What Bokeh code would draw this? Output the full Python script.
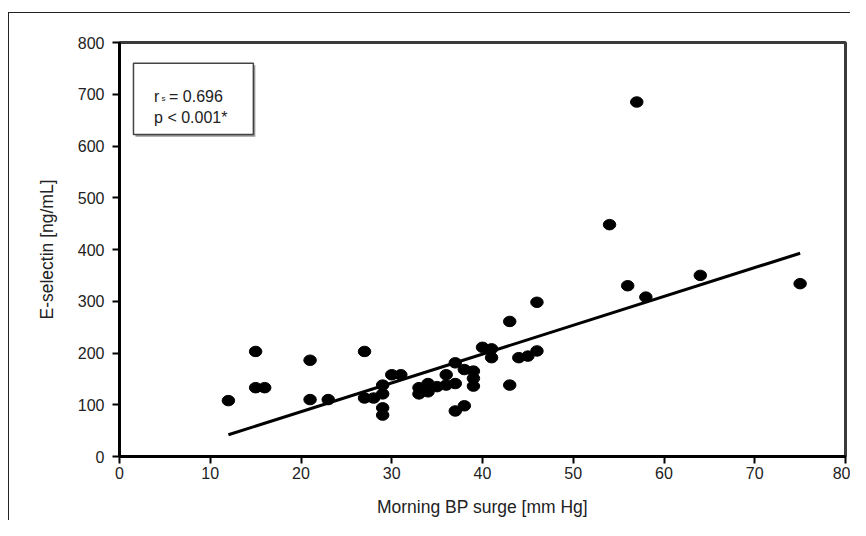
from bokeh.plotting import figure
from bokeh.models import Range1d, FixedTicker, BoxAnnotation, Label
from bokeh.embed import file_html
from bokeh.resources import INLINE

# Morning BP surge [mm Hg]
surge = [12, 15, 15, 16, 21, 21, 23, 27, 27, 28, 29, 29, 29, 29, 30, 31,
         33, 33, 34, 34, 35, 36, 36, 37, 37, 37, 38, 38, 39, 39, 39, 40,
         41, 41, 43, 43, 44, 45, 46, 46, 54, 56, 57, 58, 64, 75]
# E-selectin [ng/mL]
eselectin = [108, 203, 133, 133, 186, 110, 110, 203, 113, 113, 138, 121, 94, 80, 158, 158,
             121, 133, 141, 125, 135, 158, 138, 181, 141, 88, 168, 98, 165, 151, 136, 211,
             208, 191, 261, 138, 191, 194, 204, 298, 448, 330, 685, 308, 350, 334]

# regression line
fit_intercept = -24.9
fit_slope = 5.57

x_ticks = [0, 10, 20, 30, 40, 50, 60, 70, 80]
y_ticks = [0, 100, 200, 300, 400, 500, 600, 700, 800]

r_label = "r"
r_sub = "s"
r_value = "= 0.696"
p_label = "p < 0.001*"

FONT = "'Liberation Sans', Arial, sans-serif"
TXT = "#222222"

p = figure(width=850, height=520, output_backend="svg", toolbar_location=None,
           x_range=Range1d(0, 80), y_range=Range1d(0, 800),
           min_border_left=119, min_border_right=5, min_border_top=42,
           min_border_bottom=64)
p.background_fill_color = "white"
p.border_fill_alpha = 0
# outer panel frame (left and top edges; the rest lies beyond the page)
p.styles = {
    "background-color": "white",
    "background-image": "linear-gradient(#222222, #222222), linear-gradient(#222222, #222222)",
    "background-size": "1px 3000px, 3000px 1px",
    "background-position": "8px 12px, 8px 12px",
    "background-repeat": "no-repeat",
}
p.grid.visible = False
p.outline_line_color = "#3a3a3a"
p.outline_line_width = 3

p.xaxis.ticker = FixedTicker(ticks=x_ticks)
p.yaxis.ticker = FixedTicker(ticks=y_ticks)
for ax in (p.xaxis, p.yaxis):
    ax.axis_line_color = "black"
    ax.axis_line_width = 3
    ax.major_tick_line_color = "black"
    ax.major_tick_line_width = 2
    ax.major_tick_out = 7
    ax.major_tick_in = 0
    ax.minor_tick_line_color = None
    ax.major_label_text_font = FONT
    ax.major_label_text_font_size = "16px"
    ax.major_label_text_color = TXT
    ax.axis_label_text_font = FONT
    ax.axis_label_text_font_size = "17.5px"
    ax.axis_label_text_font_style = "normal"
    ax.axis_label_text_color = TXT

p.xaxis.axis_label = "Morning BP surge [mm Hg]"
p.yaxis.axis_label = "E-selectin [ng/mL]"
p.xaxis.major_label_standoff = 3
p.yaxis.major_label_standoff = 8
p.xaxis.axis_label_standoff = 15
p.yaxis.axis_label_standoff = 18

# regression line
lx = [min(surge), max(surge)]
ly = [fit_intercept + fit_slope * v for v in lx]
p.line(lx, ly, line_color="black", line_width=3)

# points
p.ellipse(x=surge, y=eselectin, width=12.5, height=10.5, width_units="screen",
          height_units="screen", fill_color="black", line_color="black")

# legend box (shadow + box)
p.add_layout(BoxAnnotation(left=1.76, right=14.97, top=756, bottom=618,
                           fill_color="#9a9a9a", fill_alpha=1, line_color=None))
p.add_layout(BoxAnnotation(left=1.54, right=14.75, top=760, bottom=622,
                           fill_color="white", fill_alpha=1, line_color="#444444",
                           line_alpha=1, line_width=1.5))

p.add_layout(Label(x=3.81, y=696, text=r_label, text_font=FONT, text_font_size="16px",
                   text_color=TXT, text_baseline="alphabetic"))
p.add_layout(Label(x=4.62, y=692, text=r_sub, text_font=FONT, text_font_size="8px",
                   text_color=TXT, text_baseline="alphabetic"))
p.add_layout(Label(x=5.46, y=696, text=r_value, text_font=FONT, text_font_size="16px",
                   text_color=TXT, text_baseline="alphabetic"))
p.add_layout(Label(x=3.81, y=654.5, text=p_label, text_font=FONT, text_font_size="16px",
                   text_color=TXT, text_baseline="alphabetic"))

open("out.html", "w").write(file_html(p, INLINE))
